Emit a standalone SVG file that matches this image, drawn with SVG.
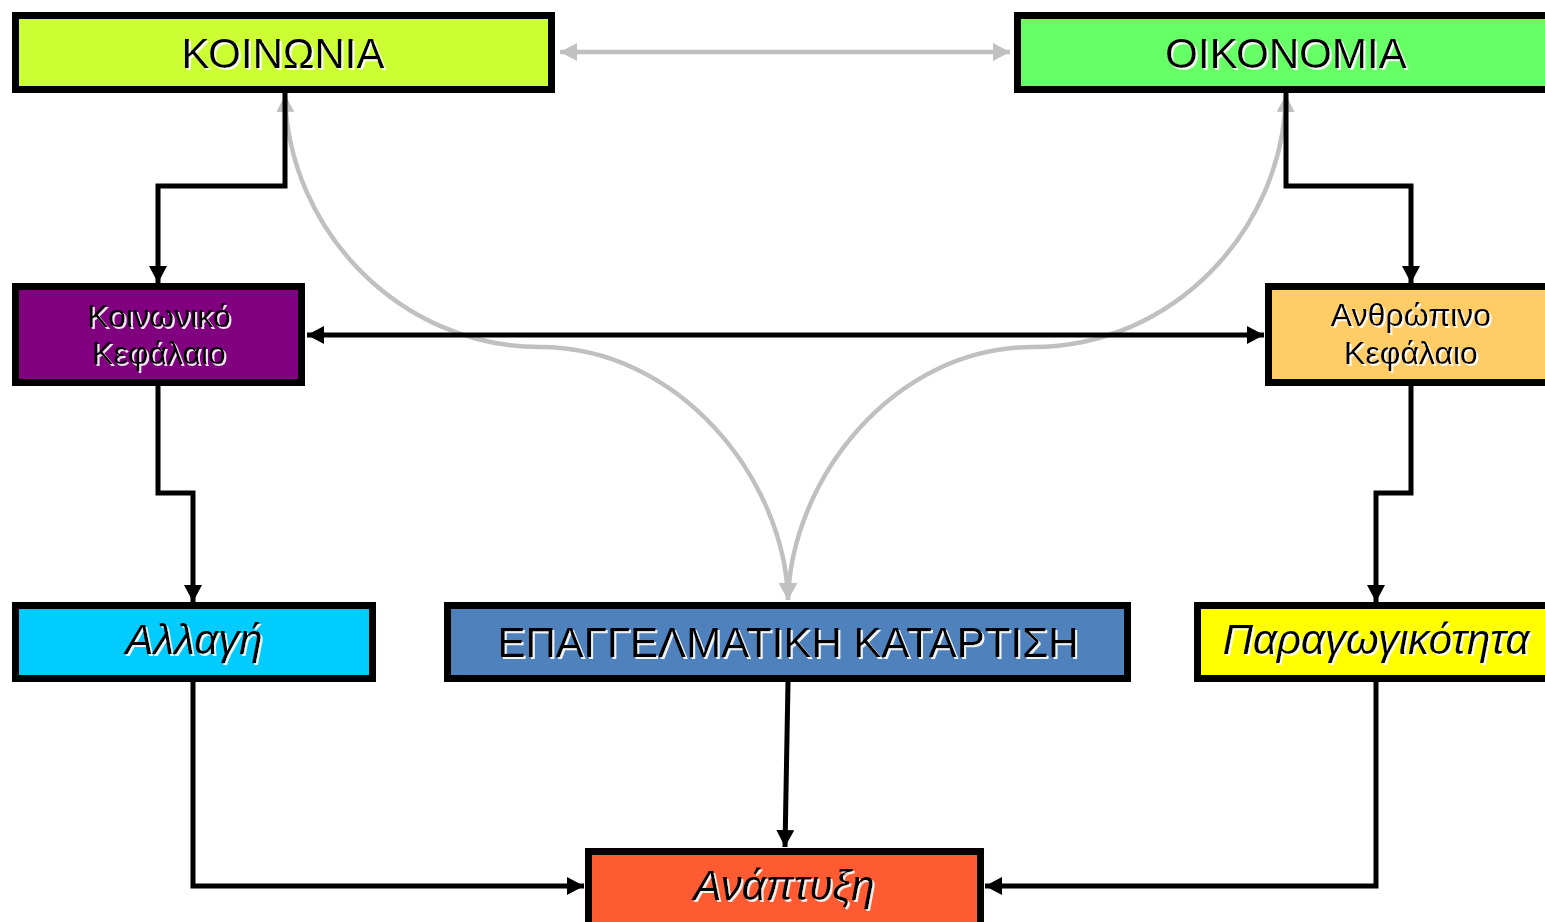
<svg xmlns="http://www.w3.org/2000/svg" width="1545" height="922" viewBox="0 0 1545 922">
<style>
  .box { stroke: #000; stroke-width: 7; }
  .t { font-family: "Liberation Sans", Arial, sans-serif; fill: #000; text-anchor: middle; filter: url(#sh); }
  .big { font-size: 42px; }
  .mid { font-size: 32px; }
  .it { font-style: italic; font-size: 42px; }
  .conn { fill: none; stroke: #000; stroke-width: 5; }
  .gray { fill: none; stroke: #c0c0c0; stroke-width: 4.5; }
</style>
<defs>
  <filter id="sh" x="-10%" y="-20%" width="120%" height="150%">
    <feDropShadow dx="2" dy="2" stdDeviation="0.4" flood-color="#ffffff" flood-opacity="0.9"/>
  </filter>
  <marker id="ab" markerUnits="userSpaceOnUse" markerWidth="18" markerHeight="18" refX="17" refY="9" orient="auto-start-reverse">
    <path d="M0,0 L17,9 L0,18 z" fill="#000"/>
  </marker>
  <marker id="ag" markerUnits="userSpaceOnUse" markerWidth="18" markerHeight="18" refX="17" refY="9" orient="auto-start-reverse">
    <path d="M0,0 L17,9 L0,18 z" fill="#c0c0c0"/>
  </marker>
</defs>
<rect width="1545" height="922" fill="#fff"/>

<g id="connectors">
  <line class="gray" x1="560" y1="52" x2="1010" y2="52" marker-start="url(#ag)" marker-end="url(#ag)"/>
  <path class="gray" d="M285,95 C288,230 400,347 540,347 C680,347 785,480 788,600" marker-start="url(#ag)" marker-end="url(#ag)"/>
  <path class="gray" d="M1286,95 C1283,230 1173,347 1033,347 C893,347 791,480 788,600" marker-start="url(#ag)" marker-end="url(#ag)"/>
  <polyline class="conn" points="285,93 285,186 158,186 158,283" marker-end="url(#ab)"/>
  <polyline class="conn" points="1286,93 1286,186 1411,186 1411,283" marker-end="url(#ab)"/>
  <line class="conn" x1="307" y1="335" x2="1264" y2="335" marker-start="url(#ab)" marker-end="url(#ab)"/>
  <polyline class="conn" points="158,386 158,493 193,493 193,602" marker-end="url(#ab)"/>
  <polyline class="conn" points="1411,386 1411,493 1376,493 1376,602" marker-end="url(#ab)"/>
  <polyline class="conn" points="193,682 193,886 584,886" marker-end="url(#ab)"/>
  <polyline class="conn" points="1376,682 1376,886 985,886" marker-end="url(#ab)"/>
  <line class="conn" x1="788" y1="682" x2="785" y2="847" marker-end="url(#ab)"/>
</g>

<g id="koinonia">
  <rect class="box" x="15.5" y="15.5" width="536" height="74" fill="#ccff33"/>
  <text class="t big" x="283" y="68">ΚΟΙΝΩΝΙΑ</text>
</g>
<g id="oikonomia">
  <rect class="box" x="1017.5" y="15.5" width="600" height="74" fill="#66ff66"/>
  <text class="t big" x="1286" y="68">ΟΙΚΟΝΟΜΙΑ</text>
</g>
<g id="koinoniko-kefalaio">
  <rect class="box" x="15.5" y="286.5" width="286" height="96" fill="#800080"/>
  <text class="t mid" x="159" y="327">Κοινωνικό</text>
  <text class="t mid" x="159" y="364">Κεφάλαιο</text>
</g>
<g id="anthropino-kefalaio">
  <rect class="box" x="1268.5" y="286.5" width="320" height="96" fill="#ffcc66"/>
  <text class="t mid" x="1411" y="326">Ανθρώπινο</text>
  <text class="t mid" x="1411" y="364">Κεφάλαιο</text>
</g>
<g id="allagi">
  <rect class="box" x="15.5" y="605.5" width="357" height="73" fill="#00ccff"/>
  <text class="t it" x="194" y="654">Αλλαγή</text>
</g>
<g id="epaggelmatiki-katartisi">
  <rect class="box" x="447.5" y="605.5" width="680" height="73" fill="#4f81bd"/>
  <text class="t big" x="788" y="657">ΕΠΑΓΓΕΛΜΑΤΙΚΗ ΚΑΤΑΡΤΙΣΗ</text>
</g>
<g id="paragogikotita">
  <rect class="box" x="1197.5" y="605.5" width="400" height="73" fill="#ffff00"/>
  <text class="t it" x="1376" y="654">Παραγωγικότητα</text>
</g>
<g id="anaptyxi">
  <rect class="box" x="588.5" y="851.5" width="392" height="100" fill="#ff5b33"/>
  <text class="t it" x="784" y="900">Ανάπτυξη</text>
</g>
</svg>
